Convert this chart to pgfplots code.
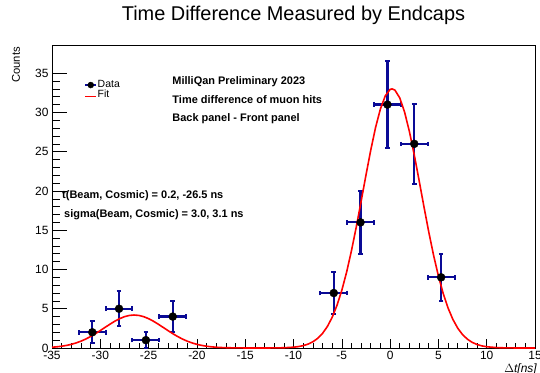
\documentclass[border=0pt]{standalone}
\usepackage{fontspec}
\setmainfont{Liberation Sans}
\usepackage{pgfplots}
\pgfplotsset{compat=1.18}
\usepackage{pgfplotstable}
\definecolor{errcol}{RGB}{10,10,150}
\pgfplotstableread{
x y ex ey
-30.83 2 1.389 1.414
-28.06 5 1.389 2.236
-25.28 1 1.389 1.0
-22.50 4 1.389 2.0
-5.83 7 1.389 2.646
-3.06 16 1.389 4.0
-0.28 31 1.389 5.568
2.50 26 1.389 5.099
5.28 9 1.389 3.0
}\datatab
\begin{document}
\begin{tikzpicture}
\begin{axis}[
  scale only axis,
  width=483bp, height=302.3bp,
  xmin=-35, xmax=15, ymin=0, ymax=38.5,
  xtick={-35,-30,...,15}, ytick={0,5,...,35},
  minor x tick num=4, minor y tick num=4,
  tick align=inside,
  xtick pos=bottom, ytick pos=left,
  major tick length=15bp, minor tick length=7.5bp,
  xtick style={/pgfplots/major tick length=9bp, /pgfplots/minor tick length=4.5bp},
  tick style={black, line width=0.6bp},
  axis line style={line width=0.8bp},
  /pgf/number format/assume math mode=true,
  ticklabel style={font=\fontsize{12}{12}\selectfont},
  title={Time Difference Measured by Endcaps},
  title style={font=\fontsize{20}{20}\selectfont, at={(rel axis cs:0.5,1.0629)}, anchor=base, inner sep=0pt},
  ylabel={Counts},
  ylabel style={font=\fontsize{11.3}{11.3}\selectfont, at={(rel axis cs:-0.0745,0.9957)}, anchor=east, inner sep=0pt},
  clip=false,
  legend style={draw=none, fill=none, at={(rel axis cs:0.0663,0.8865)}, anchor=north west,
    inner sep=0pt, font=\fontsize{10.5}{10.5}\selectfont, nodes={inner sep=0.5bp}, row sep=0bp,
    /tikz/every even column/.append style={column sep=1bp}},
  legend cell align=left,
]
\addplot+[only marks, mark=*, mark size=4bp, mark options={fill=black, draw=black},
  legend image code/.code={\draw[errcol, line width=2bp] (0bp,0bp) -- (11bp,0bp); \fill[black] (5.5bp,0bp) circle (3bp);},
  error bars/.cd, x dir=both, x explicit, y dir=both, y explicit,
  error bar style={color=errcol, line width=2.2bp},
  error mark options={rotate=90, mark size=2.3bp, line width=2bp, color=errcol}]
  table[x=x, y=y, x error=ex, y error=ey] {\datatab};
\addlegendentry{Data}
\addplot[red, line width=1.6bp, mark=none, legend image code/.code={\draw[red, line width=1.6bp] (0bp,-1.5bp) -- (11bp,-1.5bp);}] coordinates {
(-35,0.098) (-34.5,0.150) (-34,0.225) (-33.5,0.328) (-33,0.466) (-32.5,0.646) (-32,0.870) (-31.5,1.144) (-31,1.465) (-30.5,1.827) (-30,2.221) (-29.5,2.630) (-29,3.034) (-28.5,3.411) (-28,3.736) (-27.5,3.987) (-27,4.146) (-26.5,4.2) (-26,4.146) (-25.5,3.987) (-25,3.736) (-24.5,3.411) (-24,3.034) (-23.5,2.630) (-23,2.221) (-22.5,1.827) (-22,1.465) (-21.5,1.144) (-21,0.870) (-20.5,0.646) (-20,0.466) (-19.5,0.328) (-19,0.225) (-18.5,0.150) (-18,0.098) (-17.5,0.062) (-17,0.038) (-16,0.014) (-15,0.004) (-14,0.001) (-13,0.002) (-12,0.009) (-11,0.031) (-10,0.102) (-9.5,0.177) (-9,0.299) (-8.5,0.492) (-8,0.787) (-7.5,1.224) (-7,1.852) (-6.5,2.725) (-6,3.898) (-5.5,5.428) (-5,7.346) (-4.5,9.671) (-4,12.39) (-3.5,15.42) (-3,18.68) (-2.5,22.01) (-2,25.22) (-1.5,28.11) (-1,30.46) (-0.5,32.11) (0,32.93) (0.2,33.0) (0.5,32.84) (1,31.85) (1.5,30.04) (2,27.56) (2.5,24.60) (3,21.35) (3.5,18.02) (4,14.79) (4.5,11.81) (5,9.174) (5.5,6.930) (6,5.092) (6.5,3.640) (7,2.528) (7.5,1.709) (8,1.123) (8.5,0.718) (9,0.447) (9.5,0.270) (10,0.159) (11,0.051) (12,0.014) (13,0.004) (14,0.001) (15,0)
};
\addlegendentry{Fit}
\node[anchor=base west, inner sep=0pt, font=\bfseries\fontsize{11}{11}\selectfont] at (axis cs:-22.55,33.62) {MilliQan Preliminary 2023};
\node[anchor=base west, inner sep=0pt, font=\bfseries\fontsize{11}{11}\selectfont] at (axis cs:-22.55,31.20) {Time difference of muon hits};
\node[anchor=base west, inner sep=0pt, font=\bfseries\fontsize{11}{11}\selectfont] at (axis cs:-22.55,28.82) {Back panel - Front panel};
\node[anchor=base west, inner sep=0pt, font=\bfseries\fontsize{11}{11}\selectfont] at (axis cs:-33.96,19.07) {t(Beam, Cosmic) = 0.2, -26.5 ns};
\node[anchor=base west, inner sep=0pt, font=\bfseries\fontsize{11}{11}\selectfont] at (axis cs:-33.76,16.65) {sigma(Beam, Cosmic) = 3.0, 3.1 ns};
\node[anchor=north east, inner sep=0pt, font=\itshape\fontsize{12}{12}\selectfont] at (rel axis cs:1.004,-0.0529) {$\Delta$t[ns]};
\coordinate (bbSW) at (rel axis cs:-0.10766,-0.0827);
\coordinate (bbNE) at (rel axis cs:1.01035,1.15117);
\end{axis}
\pgfresetboundingbox
\useasboundingbox (bbSW) rectangle (bbNE);
\end{tikzpicture}
\end{document}
